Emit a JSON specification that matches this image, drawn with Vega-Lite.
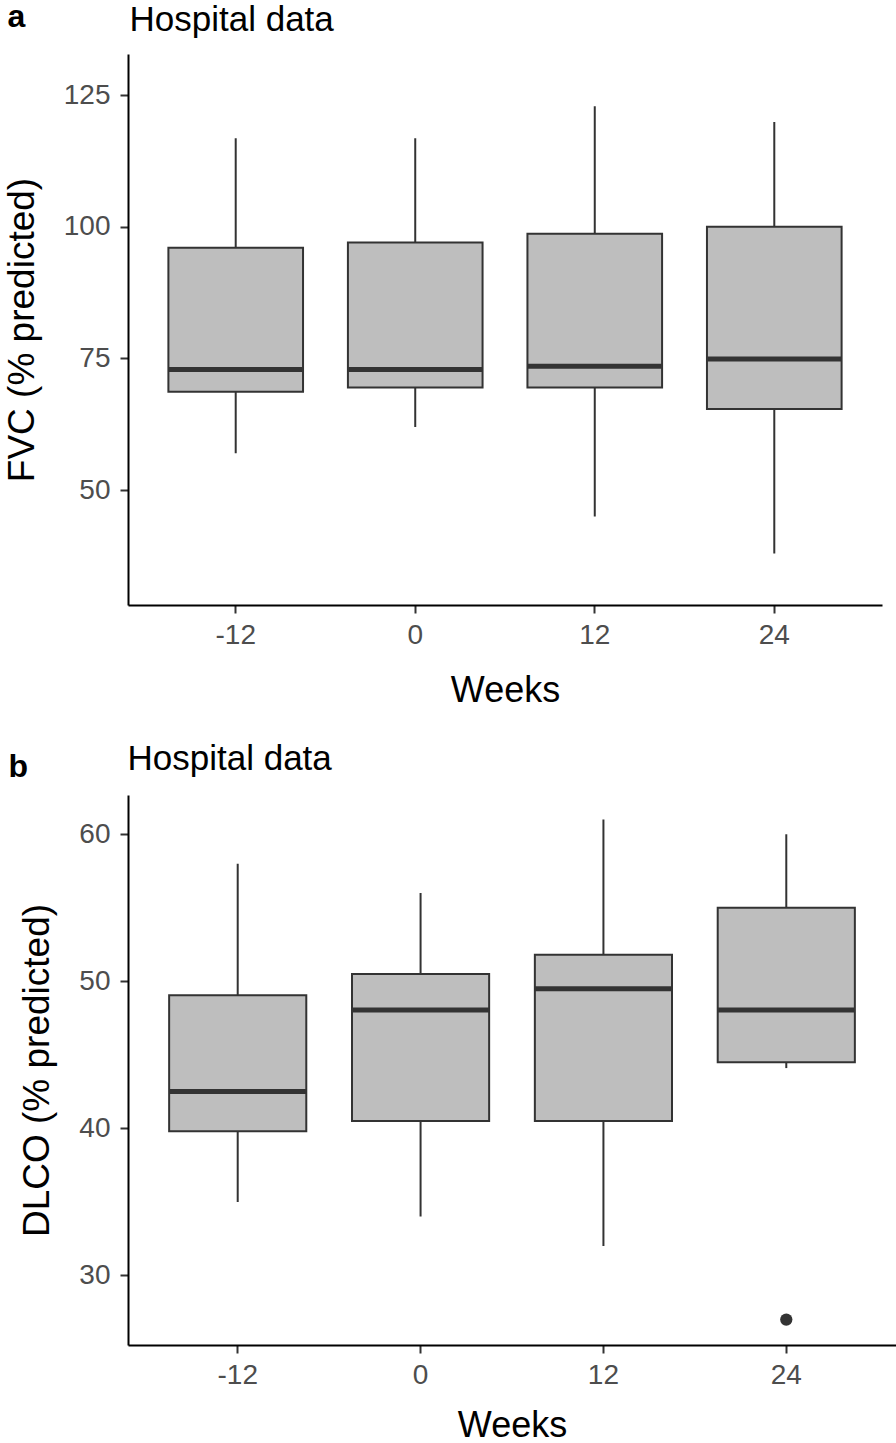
{
  "$schema": "https://vega.github.io/schema/vega-lite/v6.json",
  "padding": {"left": 3, "top": 0, "right": 0, "bottom": 0},
  "background": "white",
  "spacing": 33,
  "config": {
    "view": {"stroke": null},
    "font": "Liberation Sans",
    "axis": {
      "grid": false,
      "domainColor": "#000000",
      "domainWidth": 2,
      "tickColor": "#333333",
      "tickWidth": 2,
      "tickSize": 8,
      "labelFont": "Liberation Sans",
      "labelFontSize": 28,
      "labelColor": "#4d4d4d",
      "titleFont": "Liberation Sans",
      "titleFontSize": 36,
      "titleFontWeight": "normal",
      "titleColor": "#000000"
    },
    "axisX": {"labelAngle": 0, "labelPadding": 8, "titlePadding": 24},
    "axisY": {"labelPadding": 10, "titlePadding": 22, "titleFontSize": 37}
  },
  "datasets": {
    "fvc": [
      {"week": -12, "lower": 57, "q1": 68.7, "median": 72.9, "q3": 96, "upper": 116.8},
      {"week": 0, "lower": 62, "q1": 69.5, "median": 72.9, "q3": 97, "upper": 116.8},
      {"week": 12, "lower": 45, "q1": 69.5, "median": 73.5, "q3": 98.7, "upper": 122.9},
      {"week": 24, "lower": 38, "q1": 65.4, "median": 74.9, "q3": 100, "upper": 119.9}
    ],
    "dlco": [
      {"week": -12, "lower": 35, "q1": 39.8, "median": 42.5, "q3": 49.05, "upper": 58},
      {"week": 0, "lower": 34, "q1": 40.5, "median": 48.05, "q3": 50.5, "upper": 56},
      {"week": 12, "lower": 32, "q1": 40.5, "median": 49.5, "q3": 51.8, "upper": 61},
      {"week": 24, "lower": 44.1, "q1": 44.5, "median": 48.05, "q3": 55, "upper": 60}
    ],
    "dlco_outliers": [
      {"week": 24, "value": 27}
    ]
  },
  "vconcat": [
    {
      "width": 754,
      "height": 551,
      "data": {"name": "fvc"},
      "resolve": {"axis": {"x": "independent"}},
      "layer": [
        {
          "mark": {"type": "rule", "color": "#333333", "strokeWidth": 2},
          "encoding": {
            "x": {"field": "week", "type": "ordinal", "scale": {"type": "band", "paddingInner": 0.25, "paddingOuter": 0.225}, "axis": {"orient": "bottom", "title": "Weeks"}},
            "y": {"field": "lower", "type": "quantitative", "scale": {"domain": [28.2, 132.8], "nice": false, "zero": false}, "title": "FVC (% predicted)", "axis": {"values": [50, 75, 100, 125]}},
            "y2": {"field": "upper"}
          }
        },
        {
          "mark": {"type": "bar", "fill": "#bebebe", "stroke": "#333333", "strokeWidth": 2},
          "encoding": {
            "x": {"field": "week", "type": "ordinal", "axis": {"orient": "top", "domain": false, "ticks": false, "labels": false, "title": "Hospital data", "titleX": 1, "titleY": -24, "titleAlign": "left", "titleBaseline": "alphabetic", "titleAngle": 0, "titleFontSize": 35, "titleFontWeight": "normal"}},
            "y": {"field": "q1", "type": "quantitative", "title": "FVC (% predicted)", "axis": {"values": [50, 75, 100, 125]}},
            "y2": {"field": "q3"}
          }
        },
        {
          "mark": {"type": "tick", "color": "#333333", "thickness": 5, "size": 134, "opacity": 1},
          "encoding": {
            "x": {"field": "week", "type": "ordinal", "axis": {"orient": "top", "domain": false, "ticks": false, "labels": false, "title": "a", "titleX": -121, "titleY": -28, "titleAlign": "left", "titleBaseline": "alphabetic", "titleAngle": 0, "titleFontSize": 32, "titleFontWeight": "bold"}},
            "y": {"field": "median", "type": "quantitative", "title": "FVC (% predicted)", "axis": {"values": [50, 75, 100, 125]}}
          }
        }
      ]
    },
    {
      "width": 768,
      "height": 550,
      "resolve": {"axis": {"x": "independent"}},
      "layer": [
        {
          "data": {"name": "dlco"},
          "mark": {"type": "rule", "color": "#333333", "strokeWidth": 2},
          "encoding": {
            "x": {"field": "week", "type": "ordinal", "scale": {"type": "band", "paddingInner": 0.25, "paddingOuter": 0.225}, "axis": {"orient": "bottom", "title": "Weeks", "titlePadding": 19}},
            "y": {"field": "lower", "type": "quantitative", "scale": {"domain": [25.27, 62.67], "nice": false, "zero": false}, "title": "DLCO (% predicted)", "axis": {"values": [30, 40, 50, 60]}},
            "y2": {"field": "upper"}
          }
        },
        {
          "data": {"name": "dlco"},
          "mark": {"type": "bar", "fill": "#bebebe", "stroke": "#333333", "strokeWidth": 2},
          "encoding": {
            "x": {"field": "week", "type": "ordinal", "axis": {"orient": "top", "domain": false, "ticks": false, "labels": false, "title": "Hospital data", "titleX": -1, "titleY": -26, "titleAlign": "left", "titleBaseline": "alphabetic", "titleAngle": 0, "titleFontSize": 35, "titleFontWeight": "normal"}},
            "y": {"field": "q1", "type": "quantitative", "title": "DLCO (% predicted)", "axis": {"values": [30, 40, 50, 60]}},
            "y2": {"field": "q3"}
          }
        },
        {
          "data": {"name": "dlco"},
          "mark": {"type": "tick", "color": "#333333", "thickness": 5, "size": 137, "opacity": 1},
          "encoding": {
            "x": {"field": "week", "type": "ordinal", "axis": {"orient": "top", "domain": false, "ticks": false, "labels": false, "title": "b", "titleX": -120, "titleY": -19, "titleAlign": "left", "titleBaseline": "alphabetic", "titleAngle": 0, "titleFontSize": 32, "titleFontWeight": "bold"}},
            "y": {"field": "median", "type": "quantitative", "title": "DLCO (% predicted)", "axis": {"values": [30, 40, 50, 60]}}
          }
        },
        {
          "data": {"name": "dlco_outliers"},
          "mark": {"type": "point", "filled": true, "color": "#333333", "size": 150, "opacity": 1},
          "encoding": {
            "x": {"field": "week", "type": "ordinal", "axis": null},
            "y": {"field": "value", "type": "quantitative", "title": "DLCO (% predicted)", "axis": {"values": [30, 40, 50, 60]}}
          }
        }
      ]
    }
  ]
}
